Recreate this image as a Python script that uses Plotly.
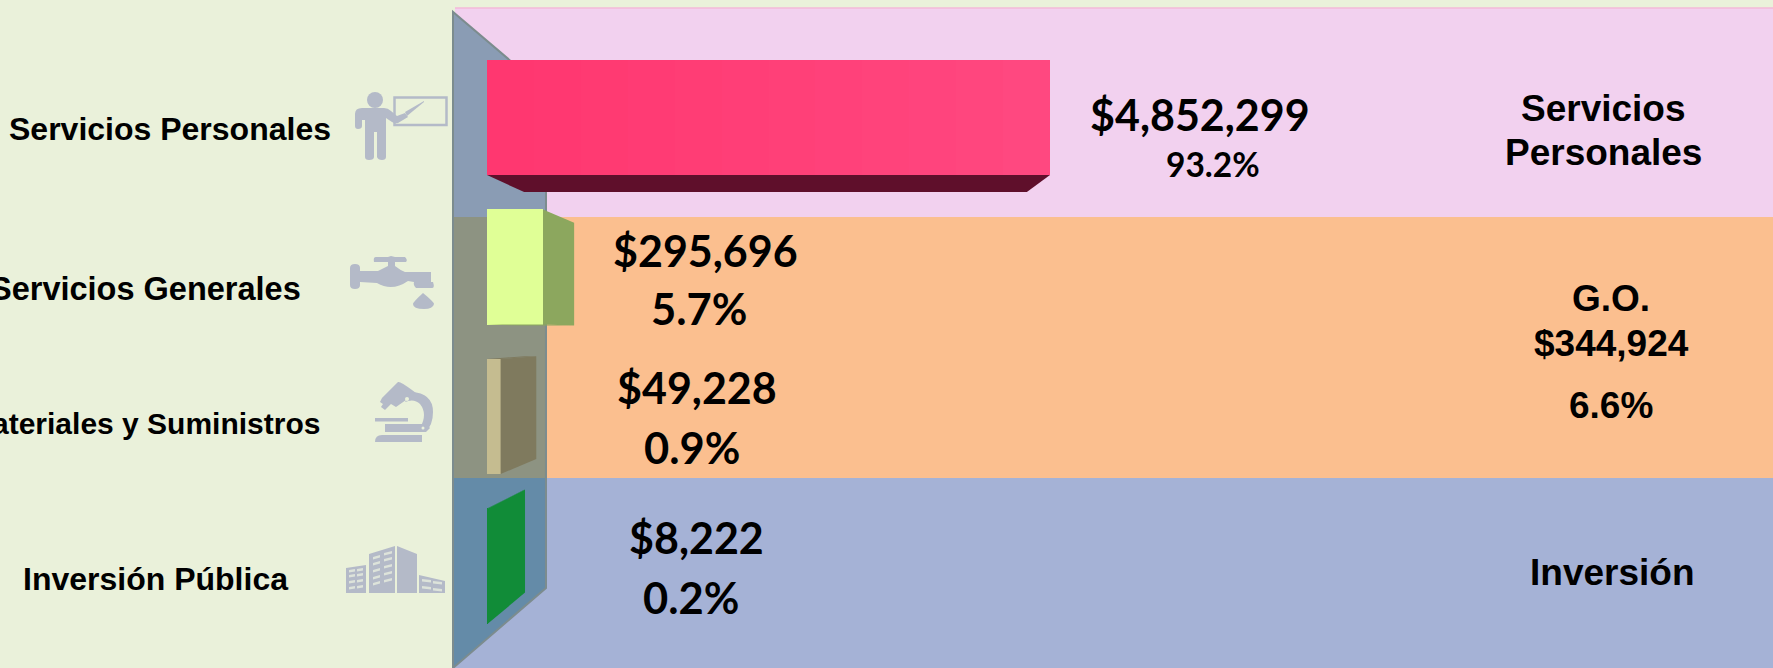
import plotly.graph_objects as go

W, H = 1773, 668

# --- data ---
categories = ["Servicios Personales", "Servicios Generales", "Materiales y Suministros", "Inversión Pública"]
amounts = ["$4,852,299", "$295,696", "$49,228", "$8,222"]
shares = ["93.2%", "5.7%", "0.9%", "0.2%"]
# bar lengths as drawn in the picture (the original is not to scale)
drawn_length = [563, 56, 13.6, 1]
groups = ["Servicios<br>Personales", "G.O.", "Inversión"]
group_amount = "$344,924"
group_share = "6.6%"

# --- styling ---
front_colors = ["#FF3E78", "#E0FF96", "#C5BC90", "#118C38"]
side_colors = ["#7F7A5E", "#8CA75E", "#7F7A5E", "#118C38"]
under_colors = ["#5F0F2B", "#8CA75E", "#7F7A5E", "#118C38"]
BG, PINK, ORANGE, BLUE = "#EAF1DA", "#F2D1EF", "#FBBF8F", "#A5B2D6"
ICON = "#B4BAC8"
WINDOW = "#DDE3DA"
ROW0, ROW_STEP = 117.5, 149.5   # pixel position of first row, row spacing
BASE_PX = 487
HALF = 0.385
VP_X, VP_ROW = 347, (334 - ROW0) / ROW_STEP
K = 0.107


def back(x, r):
    return x + (VP_X - x) * K, r + (VP_ROW - r) * K


fig = go.Figure()

# 3D faces, derived from the bar lengths through one vanishing point
for i, L in enumerate(drawn_length):
    t, b = i - HALF, i + HALF
    faces = []
    if L < VP_X:
        faces.append(([(L, t), (L, b), back(L, b), back(L, t)], side_colors[i]))
    if b < VP_ROW:
        faces.append(([(0, b), (L, b), back(L, b), back(0, b)], under_colors[i]))
    if t > VP_ROW:
        faces.append(([(0, t), (L, t), back(L, t), back(0, t)], side_colors[i]))
    for pts, c in faces:
        fig.add_trace(go.Scatter(
            x=[p[0] for p in pts] + [pts[0][0]],
            y=[p[1] for p in pts] + [pts[0][1]],
            mode="lines", fill="toself", fillcolor=c, line=dict(width=0),
            hoverinfo="skip", showlegend=False))

fig.add_trace(go.Bar(
    x=drawn_length, y=list(range(len(categories))), orientation="h", width=2 * HALF,
    marker=dict(color=front_colors, line=dict(width=0)),
    customdata=categories, hovertemplate="%{customdata}<extra></extra>", showlegend=False))

# subtle left-to-right sheen on the long bar
L0 = drawn_length[0]
steps = 12
for s in range(steps):
    f = s / (steps - 1)
    x0 = round(L0 * s / steps)
    col = f"rgb(255,{int(55 + 17 * f)},{int(112 + 16 * f)})"
    fig.add_trace(go.Scatter(
        x=[x0, L0, L0, x0, x0], y=[-HALF, -HALF, HALF, HALF, -HALF],
        mode="lines", fill="toself", fillcolor=col, line=dict(width=0),
        hoverinfo="skip", showlegend=False))


def px(p):
    return f"{p[0] / W:.5f},{1 - p[1] / H:.5f}"


shapes = []


def add_path(cmds, fill, line=None, lw=0):
    """cmds: list of points (line-to) or ('Q', ctrl, end) tuples"""
    parts = []
    for j, c in enumerate(cmds):
        if c[0] == "Q":
            parts.append(f"Q{px(c[1])} {px(c[2])}")
        else:
            parts.append(("M" if j == 0 else "L") + px(c))
    shapes.append(dict(type="path", path="".join(parts) + "Z", xref="paper", yref="paper", layer="below",
                       fillcolor=fill, line=dict(color=line or fill, width=lw)))


def Q(cx, cy, x, y):
    return ("Q", (cx, cy), (x, y))


# bands
add_path([(455, 8), (W, 8), (W, 217), (455, 217)], PINK)
shapes.append(dict(type="line", xref="paper", yref="paper", layer="below", x0=455 / W, x1=1, y0=1 - 8 / H, y1=1 - 8 / H,
                   line=dict(color="#F3B9D9", width=1.5)))
add_path([(453, 217), (W, 217), (W, 478), (453, 478)], ORANGE)
add_path([(453, 478), (W, 478), (W, H), (453, H)], BLUE)
# wall
WX, WX2 = 453, 546
add_path([(WX, 12), (WX2, 91), (WX2, 217), (WX, 217)], "#8A9CB4")
add_path([(WX, 217), (WX2, 217), (WX2, 478), (WX, 478)], "#8D9382")
add_path([(WX, 478), (WX2, 478), (WX2, 588), (WX, H)], "#648BA8")
shapes.append(dict(type="path", path="M" + "L".join(px(p) for p in [(WX, H), (WX, 12), (WX2, 91), (WX2, 588), (WX, H)]),
                   xref="paper", yref="paper", layer="below", line=dict(color="#7C8C8E", width=2)))


def circle(cx, cy, r, fill):
    shapes.append(dict(type="circle", xref="paper", yref="paper", layer="below",
                       x0=(cx - r) / W, x1=(cx + r) / W, y0=1 - (cy - r) / H, y1=1 - (cy + r) / H,
                       fillcolor=fill, line=dict(width=0)))


# icon: teacher
circle(375, 100, 8, ICON)
add_path([(355, 114), Q(355, 108, 362, 108), (384, 108), Q(388, 108, 391, 111), (397, 116), (405, 113), (408, 117),
          (398, 123), Q(395, 124, 392, 122), (386, 118), (386, 157), Q(386, 160, 382, 160), Q(378, 160, 377, 157),
          (377, 132), (374, 132), (374, 157), Q(374, 160, 369, 160), Q(365, 160, 365, 157), (365, 120), (362, 120),
          (362, 126), Q(362, 129, 358, 129), Q(355, 129, 355, 126)], ICON)
add_path([(405, 112), (424, 101), (424, 102), (407, 116)], ICON)
shapes.append(dict(type="rect", xref="paper", yref="paper", layer="below", x0=394.5 / W, x1=446.5 / W,
                   y0=1 - 97.5 / H, y1=1 - 125 / H, line=dict(color=ICON, width=2.5)))
# icon: tap
add_path([(350, 268), Q(350, 264, 355, 264), Q(360, 264, 360, 268), (360, 271), (378, 271), Q(384, 268, 388, 266),
          (388, 262), (374, 262), Q(373, 257, 376, 257), (388, 257), (391, 256), (395, 257), (405, 257),
          Q(408, 260, 406, 262), (395, 262), (395, 266), Q(400, 270, 405, 272), (431, 272), (431, 282), (433, 282),
          Q(435, 288, 432, 288), (416, 288), Q(413, 285, 414, 282), (408, 281), Q(392, 292, 377, 283), (360, 282),
          (360, 285), Q(360, 289, 355, 289), Q(350, 289, 350, 285)], ICON)
add_path([(423, 293), Q(434, 302, 434, 304), Q(433, 309, 424, 309), Q(413, 309, 413, 304), Q(413, 302, 423, 293)], ICON)
# icon: microscope
add_path([(398, 382), Q(400, 381, 412, 390), (416, 393), (396, 407), (391, 404), (387, 408), (385, 410), (381, 407),
          (383, 404), (380, 402), (382, 398)], ICON)
add_path([(411, 392), Q(433, 393, 433, 412), Q(433, 426, 425, 432), (420, 428), Q(428, 414, 420, 404),
          Q(414, 398, 405, 402)], ICON)
circle(407, 399, 2, BG)
add_path([(375, 418), (408, 418), (408, 421.5), (375, 421.5)], ICON)
add_path([(385, 424), (426, 424), (430, 428), (426, 432), (385, 432)], ICON)
add_path([(375, 442), Q(375, 435, 382, 435), (422, 435), (422, 442)], ICON)
circle(423, 428, 1.5, BG)
# icon: buildings
add_path([(346, 568), (366, 565), (366, 593), (346, 593)], ICON)
add_path([(369, 554), (395, 546), (395, 593), (369, 593)], ICON)
add_path([(397, 546), (417, 554), (417, 593), (397, 593)], ICON)
add_path([(419, 575), (445, 581), (445, 593), (419, 593)], ICON)
for x0, w, dy, ys in [(349, 6, -1, (570, 575, 581, 587)), (357, 6, -1, (569, 574, 580, 586)),
                      (373, 7, -2, (557, 563, 570, 577, 583)), (384, 8, -2, (553, 559, 566, 573, 580)),
                      (422, 9, 1, (579, 586)), (433, 9, 1, (581, 588))]:
    for yy in ys:
        add_path([(x0, yy), (x0 + w, yy + dy), (x0 + w, yy + dy + 2.5), (x0, yy + 2.5)], WINDOW)

LF = "Liberation Sans, Arial, sans-serif"
VF = "Lato, Carlito, sans-serif"
ann = []


def text(s, x, y, size, font, xanchor="center"):
    ann.append(dict(text=f"<b>{s}</b>", x=x / W, y=1 - y / H, xref="paper", yref="paper", xanchor=xanchor,
                    yanchor="middle", showarrow=False, font=dict(size=size, family=font, color="#000000"),
                    align="center"))


text(categories[0], 333, 129, 32, LF, "right")
text(categories[1], 303, 289, 32.5, LF, "right")
text(categories[2], 322, 423, 30, LF, "right")
text(categories[3], 155, 579, 32, LF)

size_a = [43, 43, 43, 43]
size_s = [33.5, 43.5, 43.5, 43.5]
pos_a = [(1200, 115), (705, 250), (697, 387), (696, 537)]
pos_s = [(1213, 164), (699, 308), (692, 447), (691, 597)]
for i in range(4):
    text(amounts[i], *pos_a[i], size_a[i], VF)
    text(shares[i], *pos_s[i], size_s[i], VF)

text("Servicios", 1603, 108, 37, LF)
text("Personales", 1603, 152, 37, LF)
text(groups[1], 1611, 298, 37, LF)
text(group_amount, 1611, 343, 37, LF)
text(group_share, 1611, 405, 37, LF)
text(groups[2], 1612, 572, 37, LF)

fig.update_layout(
    width=W, height=H, autosize=False, margin=dict(l=0, r=0, t=0, b=0, pad=0),
    paper_bgcolor=BG, plot_bgcolor="rgba(0,0,0,0)", showlegend=False, bargap=0,
    xaxis=dict(range=[-BASE_PX, W - BASE_PX], visible=False, fixedrange=True),
    yaxis=dict(range=[(H - ROW0) / ROW_STEP, -ROW0 / ROW_STEP], visible=False, fixedrange=True),
    shapes=shapes, annotations=ann)

fig.write_html("out.html", config=dict(displayModeBar=False),
               post_script="document.body.style.margin='0';document.body.style.overflow='hidden';")
